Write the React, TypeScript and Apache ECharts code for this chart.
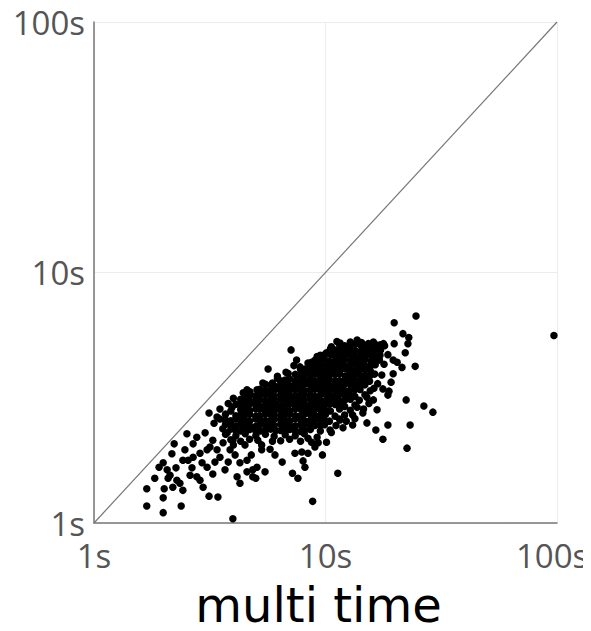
import React, { useEffect, useRef } from "react";
import * as echarts from "echarts";

// Axis ticks (seconds) and their labels
const tickValues = [1, 10, 100];
const tickSuffix = "s";
const xAxisTitle = "multi time";

// Reference line y = x
const diagonal: [number, number][] = [
  [1, 1],
  [100, 100],
];

// Isolated points to the right / far right
const sparseRight: [number, number][] = [
  [97, 5.6], [24.6, 6.7], [19.8, 6.3], [21.6, 5.7], [22.9, 5.5], [22.7, 5.2],
  [19.8, 5.2], [17.8, 5.2], [22.1, 4.78], [19.6, 4.47], [20.4, 4.38], [21.4, 4.18],
  [24.4, 4.22], [19.6, 3.94], [19.2, 3.65], [17.7, 3.43], [18.8, 3.36], [18.6, 3.24],
  [22.3, 3.1], [26.6, 2.93], [29.1, 2.77], [18.6, 2.46], [23.2, 2.46], [17.7, 2.16],
  [22.5, 1.99], [16.5, 2.35], [15.1, 2.51], [13.1, 2.46], [13.4, 2.61], [14.5, 2.75],
  [16.1, 3.1], [16.7, 2.83], [13.7, 2.9], [15.1, 3.18], [11.9, 2.4], [11.55, 2.58],
  [10.46, 2.35],
];

// Points under the cluster
const sparseBelow: [number, number][] = [
  [11.3, 1.58], [8.8, 1.22], [10.1, 2.1], [9.7, 1.87], [7.6, 1.51], [7.2, 1.58],
  [8.15, 1.67], [8.0, 1.77], [6.5, 1.75], [6.05, 1.87], [5.76, 1.97], [7.38, 1.9],
  [7.9, 1.92], [8.4, 1.9], [9.0, 2.01], [8.7, 2.1], [9.3, 2.09], [5.0, 1.51],
  [5.48, 1.6], [4.85, 1.63], [4.58, 1.6],
];

// Points above the cluster
const sparseAbove: [number, number][] = [
  [7.1, 4.91], [5.65, 4.12], [6.75, 4.0], [7.5, 4.47], [7.76, 4.2], [5.36, 3.62],
  [5.06, 3.4], [4.72, 3.34], [4.41, 3.31], [4.58, 3.4], [11.55, 5.23], [10.8, 4.91],
  [10.1, 4.78], [13.7, 5.38], [16.1, 5.28], [14.5, 5.13], [12.8, 5.28], [9.47, 4.56],
  [8.7, 4.38], [8.15, 4.12], [6.2, 3.78], [5.9, 3.62], [3.14, 2.75],
];

// Lower-left tail
const lowerTail: [number, number][] = [
  [2.52, 2.27], [2.22, 2.07], [2.17, 1.89], [1.99, 1.74], [1.91, 1.67], [1.69, 1.37],
  [2.01, 1.37], [1.99, 1.26], [1.69, 1.17], [1.99, 1.1], [2.38, 1.17], [3.14, 1.28],
  [3.43, 1.27], [3.98, 1.04], [2.19, 1.39], [2.42, 1.35], [2.78, 1.53], [2.87, 1.48],
  [2.96, 1.39], [3.26, 1.57], [2.65, 1.66], [2.07, 1.63], [2.13, 1.55], [2.28, 1.48],
  [2.35, 1.44], [2.42, 1.78], [2.55, 1.78], [2.68, 1.83], [2.87, 1.9], [3.08, 1.96],
  [2.68, 2.07], [2.78, 2.2], [3.02, 2.29], [3.26, 2.14], [3.17, 2.01], [3.4, 1.96],
  [3.5, 1.83], [3.33, 1.75], [3.08, 1.67], [2.93, 1.74], [3.61, 2.09], [3.87, 1.96],
  [3.76, 2.29], [3.98, 2.14], [4.27, 1.74], [4.58, 1.78], [5.06, 1.67], [4.15, 1.53],
  [4.27, 1.44], [4.85, 1.53], [1.83, 1.51], [2.09, 1.51], [2.26, 1.66], [2.47, 1.96],
  [2.6, 1.55], [3.68, 1.63], [4.07, 1.87], [4.49, 2.05], [3.8, 1.75], [4.78, 1.87],
  [5.3, 1.96], [5.1, 2.14],
];

// Dense cluster, upper half
const clusterUpper: [number, number][] = [
  [12.1, 5.1], [13.5, 5.18], [14.7, 5.05], [16.5, 5.15], [18.0, 5.1],
  [10.5, 4.95], [11.6, 4.88], [12.7, 4.93], [14.2, 4.85], [15.5, 4.95], [17.3, 4.9],
  [9.9, 4.7], [11.0, 4.65], [12.2, 4.72], [13.3, 4.66], [14.9, 4.7], [16.3, 4.62],
  [9.5, 4.5], [10.4, 4.42], [11.5, 4.48], [12.8, 4.45], [14.0, 4.5], [15.7, 4.43], [17.1, 4.47],
  [9.0, 4.3], [10.0, 4.22], [11.0, 4.28], [12.1, 4.25], [13.5, 4.3], [14.8, 4.24], [16.4, 4.28],
  [7.8, 4.1], [8.6, 4.05], [9.4, 4.1], [10.5, 4.06], [11.6, 4.1], [12.7, 4.04], [14.1, 4.1], [15.6, 4.06],
  [7.4, 3.92], [8.1, 3.87], [9.0, 3.93], [9.9, 3.88], [11.0, 3.92], [12.2, 3.86], [13.4, 3.91], [14.8, 3.88], [16.3, 3.93],
  [6.4, 3.7], [7.0, 3.75], [7.8, 3.7], [8.6, 3.74], [9.5, 3.69], [10.4, 3.73], [11.5, 3.7], [12.8, 3.74], [14.1, 3.71], [15.5, 3.68],
  [5.5, 3.58], [6.0, 3.53], [6.7, 3.57], [7.4, 3.55], [8.2, 3.6], [9.0, 3.54], [9.9, 3.57], [11.0, 3.52], [12.1, 3.58], [13.4, 3.55], [14.8, 3.56],
  [5.2, 3.42], [5.8, 3.37], [6.4, 3.41], [7.0, 3.38], [7.8, 3.43], [8.6, 3.39], [9.5, 3.4], [10.4, 3.36], [11.6, 3.42], [12.7, 3.38], [14.1, 3.41], [15.6, 3.37],
];

// Dense cluster, lower half
const clusterLower: [number, number][] = [
  [4.5, 3.26], [5.0, 3.22], [5.5, 3.25], [6.0, 3.21], [6.7, 3.26], [7.4, 3.23], [8.1, 3.25], [9.0, 3.2], [10.0, 3.26], [11.0, 3.23], [12.1, 3.24], [13.4, 3.2], [14.8, 3.25],
  [4.3, 3.12], [4.7, 3.07], [5.2, 3.11], [5.8, 3.08], [6.4, 3.12], [7.0, 3.06], [7.8, 3.1], [8.6, 3.13], [9.5, 3.08], [10.5, 3.11], [11.5, 3.07], [12.8, 3.12], [14.0, 3.09],
  [4.1, 2.98], [4.5, 2.94], [5.0, 2.97], [5.5, 2.93], [6.1, 2.98], [6.7, 2.95], [7.4, 2.97], [8.2, 2.93], [9.0, 2.98], [9.9, 2.95], [11.0, 2.97], [12.1, 2.92], [13.4, 2.96],
  [3.5, 2.85], [3.9, 2.8], [4.3, 2.84], [4.7, 2.81], [5.2, 2.85], [5.8, 2.82], [6.4, 2.84], [7.0, 2.8], [7.8, 2.85], [8.5, 2.82], [9.5, 2.84], [10.5, 2.8], [11.5, 2.85], [12.8, 2.82],
  [3.7, 2.72], [4.1, 2.68], [4.5, 2.71], [5.0, 2.67], [5.5, 2.72], [6.0, 2.69], [6.7, 2.71], [7.4, 2.68], [8.1, 2.72], [9.0, 2.69], [10.0, 2.71], [11.0, 2.67], [12.1, 2.7],
  [3.5, 2.6], [3.9, 2.56], [4.3, 2.59], [4.7, 2.55], [5.2, 2.6], [5.8, 2.57], [6.4, 2.59], [7.0, 2.55], [7.8, 2.6], [8.6, 2.57], [9.5, 2.58], [10.4, 2.55], [11.5, 2.6],
  [3.7, 2.48], [4.1, 2.44], [4.5, 2.47], [5.0, 2.43], [5.5, 2.48], [6.0, 2.45], [6.7, 2.47], [7.4, 2.44], [8.1, 2.48], [9.0, 2.45], [9.9, 2.47],
  [3.9, 2.37], [4.3, 2.33], [4.7, 2.36], [5.2, 2.33], [5.8, 2.37], [6.4, 2.34], [7.0, 2.36], [7.8, 2.32], [8.6, 2.36],
  [3.7, 2.26], [4.1, 2.23], [4.5, 2.27], [5.0, 2.23], [5.5, 2.26], [6.0, 2.22], [6.7, 2.25], [7.4, 2.23], [8.1, 2.27],
  [3.9, 2.15], [4.3, 2.12], [4.7, 2.16], [6.4, 2.13], [7.0, 2.16], [7.8, 2.12],
];

// Extra points in the darkest part of the cluster
const clusterCore: [number, number][] = [
  [11.5, 5.15], [12.8, 5.12], [14.1, 5.16], [15.6, 5.1], [17.2, 5.14],
  [11.0, 4.9], [12.1, 4.94], [13.4, 4.88], [14.8, 4.93], [16.4, 4.89],
  [9.5, 4.67], [10.5, 4.71], [11.5, 4.66], [12.8, 4.7], [14.1, 4.65], [15.6, 4.7], [17.2, 4.67],
  [9.0, 4.46], [9.9, 4.5], [11.0, 4.44], [12.1, 4.49], [13.4, 4.45], [14.8, 4.48], [16.4, 4.44],
  [8.6, 4.26], [9.5, 4.29], [10.4, 4.24], [11.5, 4.3], [12.8, 4.25], [14.1, 4.28], [15.6, 4.23],
  [8.1, 4.08], [9.0, 4.12], [9.9, 4.04], [11.0, 4.09], [12.1, 4.13], [13.4, 4.06], [14.8, 4.1],
  [7.7, 3.89], [8.6, 3.93], [9.5, 3.86], [10.4, 3.9], [11.5, 3.94], [12.8, 3.88], [14.0, 3.92], [15.6, 3.88],
  [6.7, 3.72], [7.4, 3.68], [8.1, 3.73], [9.0, 3.7], [9.9, 3.74], [11.0, 3.68], [12.1, 3.72], [13.4, 3.69], [14.8, 3.74],
  [5.8, 3.55], [6.4, 3.58], [7.0, 3.53], [7.8, 3.57], [8.6, 3.55], [9.5, 3.59], [10.4, 3.53], [11.5, 3.56], [12.8, 3.58], [14.1, 3.54],
  [5.5, 3.39], [6.1, 3.42], [6.7, 3.37], [7.4, 3.41], [8.1, 3.38], [9.0, 3.42], [10.0, 3.39], [11.0, 3.41], [12.1, 3.37], [13.4, 3.4],
  [4.7, 3.23], [5.2, 3.26], [5.8, 3.22], [6.4, 3.25], [7.0, 3.21], [7.8, 3.26], [8.6, 3.23], [9.5, 3.25], [10.5, 3.21], [11.5, 3.26], [12.8, 3.23],
  [4.5, 3.09], [5.0, 3.12], [5.5, 3.07], [6.0, 3.11], [6.7, 3.08], [7.4, 3.12], [8.1, 3.08], [9.0, 3.11], [10.0, 3.07], [11.0, 3.12], [12.1, 3.09],
  [4.3, 2.95], [4.7, 2.98], [5.2, 2.94], [5.8, 2.97], [6.4, 2.93], [7.0, 2.98], [7.8, 2.95], [8.6, 2.97], [9.5, 2.94], [10.4, 2.98], [11.5, 2.95],
  [4.5, 2.82], [5.0, 2.85], [5.5, 2.81], [6.1, 2.84], [6.7, 2.8], [7.4, 2.85], [8.1, 2.82], [9.0, 2.84], [10.0, 2.81],
  [4.3, 2.7], [4.7, 2.72], [5.2, 2.68], [5.8, 2.71], [6.4, 2.69], [7.0, 2.72], [7.8, 2.68], [8.6, 2.71], [9.5, 2.69],
  [3.7, 2.58], [4.1, 2.6], [4.5, 2.57], [5.0, 2.6], [5.5, 2.56], [6.0, 2.59], [6.7, 2.57], [7.4, 2.6], [8.1, 2.56], [9.0, 2.58], [9.9, 2.57],
  [3.9, 2.45], [4.3, 2.48], [4.7, 2.44], [5.2, 2.47], [5.8, 2.45], [6.4, 2.48], [7.0, 2.44], [7.8, 2.47], [8.6, 2.45], [9.5, 2.46],
  [4.1, 2.34], [4.5, 2.37], [5.0, 2.33], [5.5, 2.36], [6.1, 2.34], [6.7, 2.37], [7.4, 2.33], [8.1, 2.35],
];

// Ragged edge points around the cluster
const clusterFringe: [number, number][] = [
  [6.9, 3.95], [6.2, 3.85], [7.3, 4.25], [8.4, 4.35], [9.2, 4.62], [10.6, 5.05],
  [11.2, 5.3], [14.3, 5.25], [15.3, 5.2], [18.6, 4.7], [17.9, 4.3], [17.5, 3.9],
  [16.8, 3.6], [16.2, 3.45], [15.4, 3.0], [14.6, 2.85], [13.1, 2.7], [12.3, 2.55],
  [11.1, 2.45], [10.6, 2.3], [9.5, 2.33], [9.2, 2.2], [8.4, 2.18], [5.9, 2.12],
  [5.3, 2.05], [4.0, 2.05], [3.6, 2.38], [3.3, 2.5], [3.4, 2.65], [3.8, 3.0],
  [4.0, 3.15], [3.95, 2.9],
];

const allPoints = [
  ...sparseRight,
  ...sparseBelow,
  ...sparseAbove,
  ...lowerTail,
  ...clusterUpper,
  ...clusterLower,
  ...clusterCore,
  ...clusterFringe,
];

const LABEL_FONT = { color: "#555", fontFamily: "Open Sans", fontSize: 33 };

const tickText = (v: number) => {
  const r = Math.round(v);
  return tickValues.includes(r) ? `${r}${tickSuffix}` : "";
};

export default function App() {
  const ref = useRef<HTMLDivElement>(null);

  useEffect(() => {
    if (!ref.current) return;
    const chart = echarts.init(ref.current, undefined, { renderer: "svg" });
    chart.setOption({
      animation: false,
      backgroundColor: "#fff",
      grid: {
        left: 94,
        right: 34,
        top: 22,
        bottom: 108,
        containLabel: false,
        outerBoundsMode: "none",
      },
      xAxis: {
        type: "log",
        logBase: 10,
        min: 1,
        max: 100,
        name: xAxisTitle,
        nameLocation: "middle",
        nameGap: 60,
        nameTextStyle: {
          color: "#000",
          fontFamily: "DejaVu Sans",
          fontSize: 48,
          lineHeight: 44,
          padding: [0, 14, 0, 0],
        },
        axisLine: { show: true, lineStyle: { color: "#777", width: 1.5 } },
        axisTick: { show: false },
        axisLabel: {
          ...LABEL_FONT,
          margin: 16,
          formatter: (v: number) => {
            const t = tickText(v);
            return Math.round(v) === tickValues[tickValues.length - 1] ? `{last|${t}}` : t;
          },
          rich: {
            last: { ...LABEL_FONT, width: 82, align: "left" },
          },
        },
        splitLine: { show: true, lineStyle: { color: "#ececec", width: 1 } },
      },
      yAxis: {
        type: "log",
        logBase: 10,
        min: 1,
        max: 100,
        axisLine: { show: true, lineStyle: { color: "#777", width: 1.5 } },
        axisTick: { show: false },
        axisLabel: { ...LABEL_FONT, margin: 9, formatter: tickText },
        splitLine: { show: true, lineStyle: { color: "#ececec", width: 1 } },
      },
      series: [
        {
          type: "line",
          data: diagonal,
          showSymbol: false,
          symbol: "none",
          lineStyle: { color: "#777", width: 1.2 },
          silent: true,
          z: 1,
        },
        {
          type: "scatter",
          data: allPoints,
          symbolSize: 7.5,
          itemStyle: { color: "#000", opacity: 1 },
          z: 2,
        },
      ],
    });
    return () => chart.dispose();
  }, []);

  return <div ref={ref} style={{ width: 591, height: 631, margin: -8 }} />;
}
